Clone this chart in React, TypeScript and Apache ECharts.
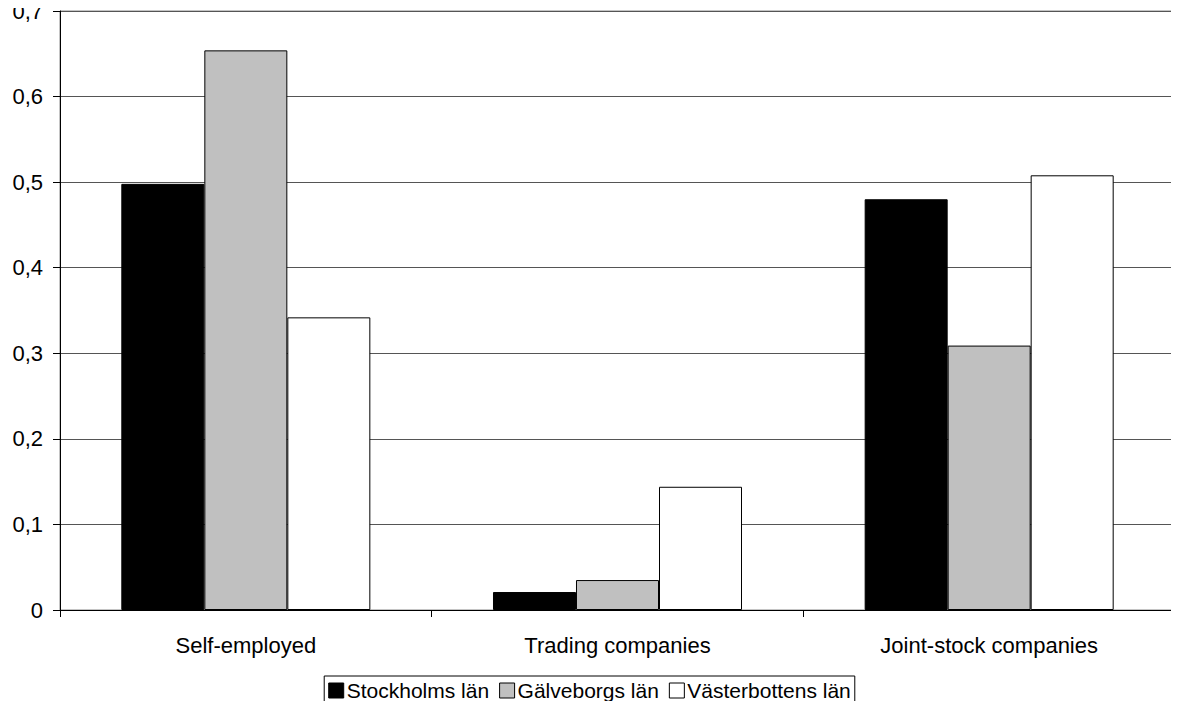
import React, { useEffect, useRef } from "react";
import * as echarts from "echarts";

const categories = ["Self-employed", "Trading companies", "Joint-stock companies"];
const seriesNames = ["Stockholms län", "Gälveborgs län", "Västerbottens län"];
const stockholm = [0.498, 0.021, 0.48];
const galveborg = [0.654, 0.035, 0.309];
const vasterbotten = [0.342, 0.144, 0.508];
const yTicks = [0, 0.1, 0.2, 0.3, 0.4, 0.5, 0.6, 0.7];
const colors = ["#000000", "#C0C0C0", "#FFFFFF"];

export default function App() {
  const ref = useRef<HTMLDivElement>(null);
  useEffect(() => {
    if (!ref.current) return;
    const chart = echarts.init(ref.current, undefined, { renderer: "svg" });
    const font = "'Liberation Sans', Arial, sans-serif";
    const data = [stockholm, galveborg, vasterbotten];
    chart.setOption({
      animation: false,
      backgroundColor: "#ffffff",
      textStyle: { fontFamily: font },
      grid: {
        left: 60,
        right: 4,
        top: 11,
        bottom: 99,
        show: true,
        borderColor: "#888888",
        borderWidth: 1,
      },
      legend: {
        data: seriesNames,
        left: "center",
        top: 676,
        icon: "rect",
        itemWidth: 15,
        itemHeight: 15,
        itemGap: 10,
        padding: [4, 4, 14, 4],
        borderColor: "#000",
        borderWidth: 1,
        borderRadius: 0,
        textStyle: { fontSize: 21, color: "#000", fontFamily: font, padding: [0, 0, 0, -2] },
        itemStyle: { borderColor: "#000", borderWidth: 1 },
      },
      xAxis: {
        type: "category",
        data: categories,
        axisLine: { lineStyle: { color: "#000", width: 1 } },
        axisTick: { show: true, length: 7, lineStyle: { color: "#000" } },
        axisLabel: { fontSize: 22, color: "#000", margin: 24, fontFamily: font },
        splitLine: { show: false },
      },
      yAxis: {
        type: "value",
        min: yTicks[0],
        max: yTicks[yTicks.length - 1],
        interval: 0.1,
        axisLine: { show: true, lineStyle: { color: "#000", width: 1 } },
        axisTick: { show: true, length: 7, lineStyle: { color: "#000" } },
        axisLabel: {
          fontSize: 22,
          color: "#000",
          margin: 17,
          fontFamily: font,
          formatter: (v: number) => (Math.round(v * 10) / 10).toString().replace(".", ","),
        },
        splitLine: { show: true, lineStyle: { color: "#555555", width: 1 } },
      },
      series: seriesNames.map((name, i) => ({
        name,
        type: "bar",
        data: data[i],
        barGap: "0%",
        barCategoryGap: "33%",
        itemStyle: { color: colors[i], borderColor: "#000", borderWidth: 1 },
      })),
    });
    return () => chart.dispose();
  }, []);
  return <div ref={ref} style={{ width: 1179, height: 709, margin: -8 }} />;
}
